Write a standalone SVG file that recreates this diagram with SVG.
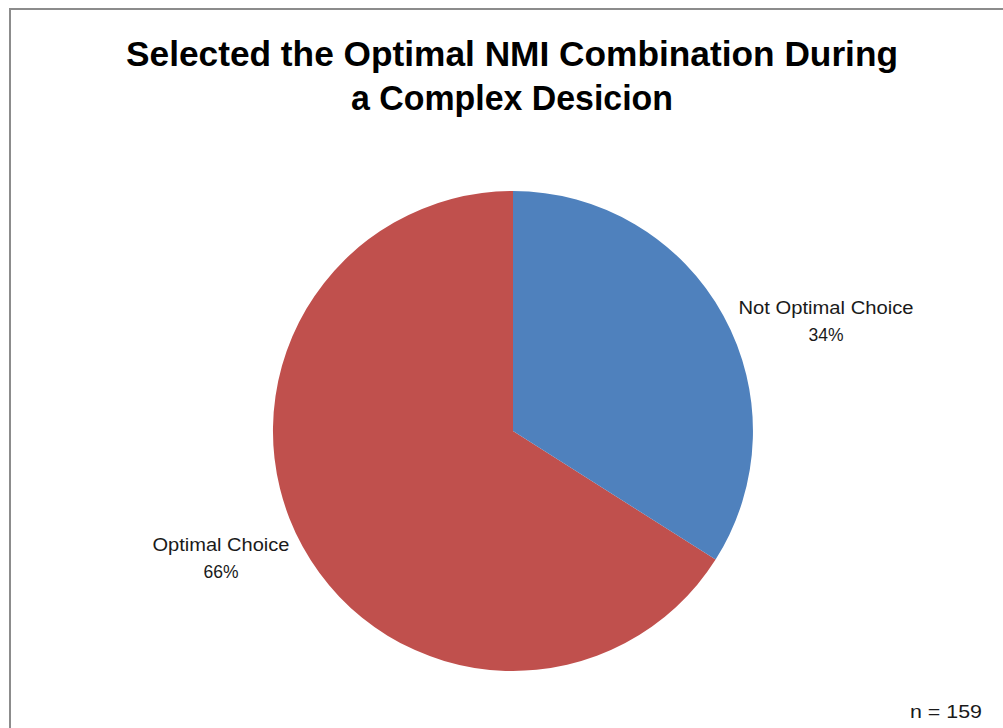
<svg xmlns="http://www.w3.org/2000/svg" width="1003" height="728" viewBox="0 0 1003 728">
<style>
.t{font-family:"Liberation Sans",Arial,sans-serif;font-weight:bold;font-size:35px;fill:#000;text-anchor:middle}
.l{font-family:"Liberation Sans",Arial,sans-serif;font-size:17.5px;fill:#1a1a1a;text-anchor:middle}
</style>
<rect x="0" y="0" width="1003" height="728" fill="#fff"/>
<rect x="10" y="9" width="1010" height="740" fill="#fff" stroke="#8c8c8c" stroke-width="2"/>
<g id="title">
<text class="t" x="512" y="66" textLength="772" lengthAdjust="spacingAndGlyphs">Selected the Optimal NMI Combination During</text>
<text class="t" x="512" y="110" textLength="322" lengthAdjust="spacingAndGlyphs">a Complex Desicion</text>
</g>
<g id="slice-optimal">
<path d="M513,431 L715.6,559.6 A240,240 0 1 1 513,191 Z" fill="#c0504d"/>
</g>
<g id="slice-not-optimal">
<path d="M513,431 L513,191 A240,240 0 0 1 715.6,559.6 Z" fill="#4f81bd"/>
</g>
<g id="labels">
<text class="l" x="826" y="314" textLength="175" lengthAdjust="spacingAndGlyphs">Not Optimal Choice</text>
<text class="l" x="826" y="341">34%</text>
<text class="l" x="221" y="551" textLength="137" lengthAdjust="spacingAndGlyphs">Optimal Choice</text>
<text class="l" x="221" y="578">66%</text>
<text class="l" x="946" y="718" textLength="72" lengthAdjust="spacingAndGlyphs">n = 159</text>
</g>
</svg>
